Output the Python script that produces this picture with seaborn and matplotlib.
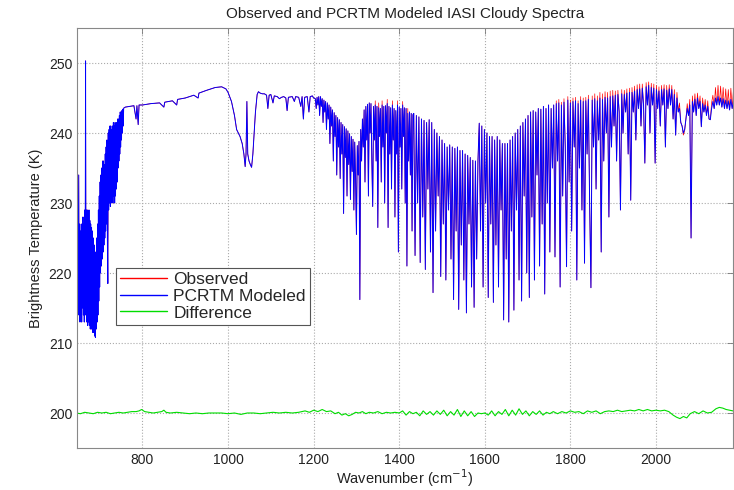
import numpy as np
import pandas as pd
import seaborn as sns
import matplotlib
matplotlib.use('Agg')
import matplotlib.pyplot as plt

# PCRTM modeled brightness temperature, read off the figure region by region
# CO2 band edge
wn_co2 = list(range(645, 758))
bt_co2 = [212, 226, 213, 227, 214, 225, 234, 214, 227, 213,
          226, 214, 227, 213, 225, 215, 228, 214, 227, 213,
          229, 214, 250.3, 215, 229, 213, 229, 212.5, 228, 213,
          229, 212.5, 227.5, 212, 227, 212, 226.5, 212, 226, 211.5,
          225, 211.5, 224, 211, 222, 210.8, 223, 212, 225, 213,
          227, 214, 229, 216, 231, 218,
          233, 220, 234, 221, 235, 222, 236, 223, 236, 224,
          235.5, 225, 237, 226, 238, 227, 239, 225, 218.5, 240,
          229, 240.5, 230, 241, 229.5, 241, 230, 240.5, 231, 241,
          230, 241.5, 231, 241, 230, 241.5, 231, 241, 232, 241.5,
          233, 242, 235, 242, 236, 242.5, 237, 243, 238, 243,
          239, 243.2, 240, 243.4, 241, 243.5, 243.6]

# window region
wn_win = [760, 770, 780, 785, 787, 790, 792, 800, 820, 840, 850, 852, 870, 880, 882, 900,
          920, 930, 932, 950, 970, 985, 995]
bt_win = [243.7, 243.8, 243.9, 242.0, 243.9, 241.2, 244.0, 244.0, 244.2, 244.3, 243.7, 244.4,
          244.6, 244.0, 244.8, 245.0, 245.4, 245.0, 245.7, 246.1, 246.5, 246.6, 246.3]

# ozone band
wn_o3 = [1000, 1008, 1015, 1020, 1028, 1033, 1037, 1040, 1042, 1044, 1046, 1049, 1052, 1055,
         1058, 1061, 1064, 1068, 1071]
bt_o3 = [245.8, 244.5, 242.5, 240.5, 239.5, 238.5, 237.0, 235.2, 237.0, 244.5, 237.0, 236.0,
         235.5, 235.1, 237.0, 240.0, 243.0, 245.5, 245.9]

# second window
wn_win2 = [1075, 1080, 1085, 1090, 1093, 1096, 1100, 1105, 1108, 1115, 1120, 1125, 1130, 1135,
           1138, 1141, 1150, 1155, 1158, 1165, 1170, 1173, 1176, 1179, 1185, 1189, 1192, 1197, 1200]
bt_win2 = [245.7, 245.6, 245.6, 245.4, 243.5, 245.4, 245.5, 244.3, 245.3, 245.2, 244.9, 245.1,
           245.2, 245.0, 243.2, 245.1, 245.2, 244.5, 245.2, 245.1, 243.8, 245.2, 242.0, 245.1,
           245.2, 243.0, 245.2, 245.3, 245.0]

# water vapour band
wn_h2o_a = list(range(1204, 1337, 2))
bt_h2o_a = [244.9, 243.5, 245.1, 244.0, 245.2, 242.5, 245.2, 243.8, 244.9, 241.5,
            244.7, 243, 244.5, 240.5, 244.3, 242, 244.0, 238.5, 243.7, 241,
            243.3, 236, 242.9, 239.5, 242.5, 234, 242.2, 238, 241.9, 233.5,
            241.5, 237, 241.2, 228.5, 240.9, 236.5, 240.6, 231, 240.3, 235.5,
            239.9, 230.5, 239.5, 234.5, 239.1, 229, 238.7, 233.5, 225.5, 238.2,
            234, 238.8, 216.2, 240.5, 236, 242, 238, 243.3, 233, 243.8,
            239, 244.1, 231, 244.3, 240, 244.2, 236]

wn_h2o_b = list(range(1338, 1433, 2))
bt_h2o_b = [229.5, 243.8, 239, 244.0, 236, 243.8, 226.5, 243.6, 239.5, 243.5,
            233, 244.0, 238, 243.8, 230, 243.9, 240, 244.2, 226.5, 243.8,
            237, 243.6, 232, 244.0, 239, 243.5, 228, 243.2, 237, 244.0,
            223, 243.7, 238, 243.5, 232, 244.0, 239.5, 243.6, 230, 243.5,
            221, 242.8, 236, 243.0, 234, 242.8, 226, 242.6]

wn_h2o_c = list(range(1434, 1585, 3))
bt_h2o_c = [242.8, 222.5, 242.5, 230, 242.3, 221.5, 242.0, 228, 241.8, 220.5, 241.5, 232, 241.9,
            223, 241.5, 217.2, 240.5, 226, 240, 231, 239.5, 219.5, 239, 227, 238.5, 219, 238, 229,
            238.3, 222, 238, 216.2, 237.8, 226, 238, 214.8, 237.5, 224, 237.5, 219, 237, 214.3,
            236.8, 227, 236.5, 218, 236.1, 215.1, 236, 222, 236]

wn_h2o_d = list(range(1587, 1762, 3))
bt_h2o_d = [241.4, 226, 241, 218, 240.5, 230, 240, 216.5, 239.5, 227, 239.5, 215.8, 239, 224,
            239.5, 218, 239, 229, 238.5, 213.3, 238.5, 222, 238.5, 213, 239, 226, 239.5, 214.7,
            240, 229, 240.5, 219, 241, 216, 241.5, 231, 242, 220, 242.5, 216.5, 243, 228, 243.2,
            219, 243, 234, 243.5, 221, 243.4, 227, 243.8, 217, 243.5, 230, 244, 223, 243.5, 235, 244]

wn_h2o_e = list(range(1764, 1900, 3))
bt_h2o_e = [222.3, 244.2, 236, 244.3, 218, 244, 231, 244.4, 238, 220.9,
            244.7, 233, 244.3, 226, 244.5, 238, 244.6, 219, 244.2, 235,
            244.7, 229, 244.5, 221.4, 244.6, 237, 244.8, 230, 217.9, 244.7,
            238, 244.9, 232, 244.6, 239, 245.0, 223, 244.8, 236, 245.1,
            240, 245.0, 228, 245.2, 238, 245.3]

wn_h2o_f = list(range(1902, 2185, 3))
bt_h2o_f = [241, 245.4, 236, 245.5, 243, 229, 245.6, 240, 245.5, 243,
            245.7, 237, 245.8, 230.4, 245.8, 243, 246.0, 239, 246.2, 243.5,
            246.3, 241, 246.4, 244, 235.7, 246.6, 244, 246.8, 240, 246.5,
            244, 246.4, 235.7, 246.2, 243.5, 246.0, 241, 246.2, 244, 246.3,
            238, 246.1, 243.5, 246.3, 244, 246.2, 242, 245.5, 239.7, 245.0,
            243, 243.5, 241.5, 241, 240, 240.5, 242, 243.5, 242.5, 244,
            225, 244.5, 243, 244.8, 242.5, 245, 243.5, 244.5, 240.9, 244.2,
            243, 244, 242.5, 243.8, 242, 241.9, 243.5, 244.5, 243.5, 245.0,
            244, 245.2, 244, 245.0, 243.7, 244.9, 243.5, 244.7, 243.5, 244.6,
            243.3, 244.8, 243.5, 244.5, 243.6]

# observed values where they separate from the model (tops of the lines)
obs_h2o_b = [229.5, 243.8, 239, 244.6, 236, 243.8, 226.5, 244.3, 239.5, 243.5,
             233, 244.6, 238, 243.8, 230, 243.9, 240, 244.8, 226.5, 243.8,
             237, 243.6, 232, 244.6, 239, 243.5, 228, 243.2, 237, 244.6,
             223, 243.7, 238, 243.5, 232, 244.5, 239.5, 243.6, 230, 243.5,
             221, 243.5, 236, 243.0, 234, 242.8, 226, 242.6]

obs_h2o_e = [222.3, 244.6, 236, 244.8, 218, 244.4, 231, 244.9, 238, 220.9,
             245.2, 233, 244.7, 226, 245.0, 238, 245.1, 219, 244.6, 235,
             245.2, 229, 245.0, 221.4, 245.1, 237, 245.4, 230, 217.9, 245.3,
             238, 245.6, 232, 245.3, 239, 245.8, 223, 245.6, 236, 245.9,
             240, 245.8, 228, 246.0, 238, 246.1]

obs_h2o_f = [241, 246.0, 236, 246.1, 243, 229, 246.2, 240, 246.1, 243,
             246.3, 237, 246.4, 230.4, 246.5, 243, 246.7, 239, 246.9, 243.5,
             247.0, 241, 247.0, 244, 235.7, 247.2, 244, 247.3, 240, 247.1,
             244, 247.0, 235.7, 246.8, 243.5, 246.6, 241, 246.8, 244, 246.9,
             238, 246.8, 243.5, 246.9, 244, 246.8, 242, 246.2, 239.7, 245.8,
             243, 244.3, 241.5, 241, 239.7, 240.3, 242, 244.2, 242.5, 244.8,
             225, 245.3, 243, 245.6, 242.5, 245.7, 243.5, 245.3, 240.9, 245.0,
             243, 244.8, 242.5, 244.6, 242, 241.9, 244.3, 245.4, 243.5, 246.5,
             244, 246.8, 244, 246.7, 243.7, 246.5, 243.5, 246.3, 243.5, 246.2,
             243.3, 246.4, 243.5, 246.1, 243.6]

# observed - modeled, offset to 200 K
wn_diff = [645, 655, 665, 675, 685, 695, 705, 715, 725, 735, 745, 755, 765, 775, 785, 792, 798, 805,
           815, 825, 835, 845, 850, 855, 865, 880, 895, 910, 925, 940, 955, 970, 985, 1000, 1015,
           1030, 1045, 1060, 1075, 1090, 1105, 1120, 1135, 1150, 1165, 1180, 1190, 1200, 1210, 1220,
           1230, 1240, 1250, 1258, 1266, 1274, 1282, 1290, 1298, 1306, 1314, 1322, 1330, 1340, 1350,
           1360, 1370, 1380, 1390, 1400, 1408, 1416, 1424, 1432, 1440, 1448, 1456, 1464, 1472, 1480,
           1488, 1496, 1504, 1512, 1520, 1528, 1536, 1544, 1552, 1560, 1568, 1576, 1584, 1592, 1600,
           1608, 1616, 1624, 1632, 1640, 1648, 1656, 1664, 1672, 1680, 1688, 1696, 1704, 1712, 1720,
           1728, 1736, 1744, 1752, 1760, 1770, 1780, 1790, 1800, 1810, 1820, 1830, 1840, 1850, 1860,
           1870, 1880, 1890, 1900, 1910, 1920, 1930, 1940, 1950, 1960, 1970, 1980, 1990, 2000, 2010,
           2020, 2030, 2040, 2048, 2056, 2064, 2072, 2080, 2090, 2100, 2110, 2120, 2130, 2140, 2148,
           2156, 2164, 2172, 2180, 2185]
bt_diff = [200.0, 199.9, 200.1, 200.0, 199.9, 200.1, 200.0, 200.1, 199.9, 200.0, 200.1, 200.0,
           200.1, 200.2, 200.2, 200.3, 200.5, 200.2, 200.1, 200.0, 200.1, 200.2, 200.4, 200.1,
           200.0, 200.1, 200.0, 199.9, 200.0, 199.9, 200.0, 200.0, 200.0, 199.9, 200.0, 199.8,
           200.0, 200.0, 199.9, 200.0, 200.1, 200.0, 200.1, 200.0, 200.1, 200.3, 200.1, 200.4,
           200.2, 200.5, 200.2, 200.3, 199.9, 200.1, 199.7, 199.9, 199.6, 199.8, 200.1, 200.0,
           200.2, 199.9, 200.1, 200.0, 200.2, 199.9, 200.1, 200.0, 200.1, 200.0, 200.3, 199.7,
           200.2, 199.9, 200.1, 199.6, 200.3, 199.8, 200.2, 199.7, 200.3, 199.8, 200.4, 199.6,
           200.2, 199.7, 200.5, 199.5, 200.3, 199.6, 200.2, 199.5, 200.0, 199.9, 200.0, 199.7,
           200.3, 199.6, 200.2, 199.8, 200.5, 199.6, 200.4, 199.7, 200.6, 199.8, 200.3, 199.6,
           200.2, 199.8, 200.3, 199.7, 200.1, 199.9, 200.2, 199.9, 200.2, 200.0, 200.3, 200.1,
           200.2, 199.9, 200.3, 200.1, 200.3, 199.9, 200.2, 200.3, 200.2, 200.4, 200.2, 200.3,
           200.4, 200.3, 200.5, 200.3, 200.5, 200.3, 200.4, 200.3, 200.4, 200.2, 199.7, 199.4,
           199.2, 199.5, 199.3, 199.9, 200.2, 199.9, 200.3, 200.0, 200.1, 200.6, 200.8, 200.7,
           200.5, 200.4, 200.3, 200.2]

wn_all = (wn_co2 + wn_win + wn_o3 + wn_win2 + wn_h2o_a + wn_h2o_b + wn_h2o_c + wn_h2o_d
          + wn_h2o_e + wn_h2o_f)
bt_model = (bt_co2 + bt_win + bt_o3 + bt_win2 + bt_h2o_a + bt_h2o_b + bt_h2o_c + bt_h2o_d
            + bt_h2o_e + bt_h2o_f)
# elsewhere observed and modeled coincide on the plot
bt_obs = (bt_co2 + bt_win + bt_o3 + bt_win2 + bt_h2o_a + obs_h2o_b + bt_h2o_c + bt_h2o_d
          + obs_h2o_e + obs_h2o_f)

obs_df = pd.DataFrame({'wn': wn_all, 'bt': bt_obs})
model_df = pd.DataFrame({'wn': wn_all, 'bt': bt_model})
diff_df = pd.DataFrame({'wn': wn_diff, 'bt': bt_diff})

sns.set_style('white')
plt.rcParams['font.family'] = ['Liberation Sans', 'DejaVu Sans']

fig = plt.figure(figsize=(7.34, 4.9), dpi=100)
ax = fig.add_axes([77 / 734, 42 / 490, 656 / 734, 420 / 490])

sns.lineplot(data=obs_df, x='wn', y='bt', color='#ff0000', lw=0.5, estimator=None, sort=False,
             ax=ax, label='Observed')
sns.lineplot(data=model_df, x='wn', y='bt', color='#0000ff', lw=0.7, estimator=None, sort=False,
             ax=ax, label='PCRTM Modeled')
sns.lineplot(data=diff_df, x='wn', y='bt', color='#00dd00', lw=0.8, estimator=None, sort=False,
             ax=ax, label='Difference')

ax.set_xlim(647, 2180)
ax.set_ylim(195, 255)
ax.set_xticks(np.arange(800, 2001, 200))
ax.set_yticks(np.arange(200, 251, 10))
ax.tick_params(direction='in', top=True, right=True, length=4, width=0.6, colors='#777777',
               labelcolor='#222222', labelsize=10)
for s in ax.spines.values():
    s.set_color('#888888')
    s.set_linewidth(0.8)
ax.grid(True, ls=':', color='#aaaaaa', lw=0.8)

ax.set_title('Observed and PCRTM Modeled IASI Cloudy Spectra', fontsize=11, color='#222222', pad=7)
ax.set_xlabel('Wavenumber (cm$^{-1}$)', fontsize=10.5, color='#222222', labelpad=0)
ax.set_ylabel('Brightness Temperature (K)', fontsize=10.5, color='#222222', labelpad=4)

leg = ax.legend(loc='upper left', bbox_to_anchor=(0.0595, 0.4286), fontsize=12.5, frameon=True,
                fancybox=False, framealpha=1, edgecolor='#555555', handlelength=2.7,
                handletextpad=0.35, labelspacing=0.08, borderpad=0.25, borderaxespad=0)
leg.get_frame().set_linewidth(0.8)
for line in leg.get_lines():
    line.set_linewidth(1.0)

fig.savefig('out.png', dpi=100)
